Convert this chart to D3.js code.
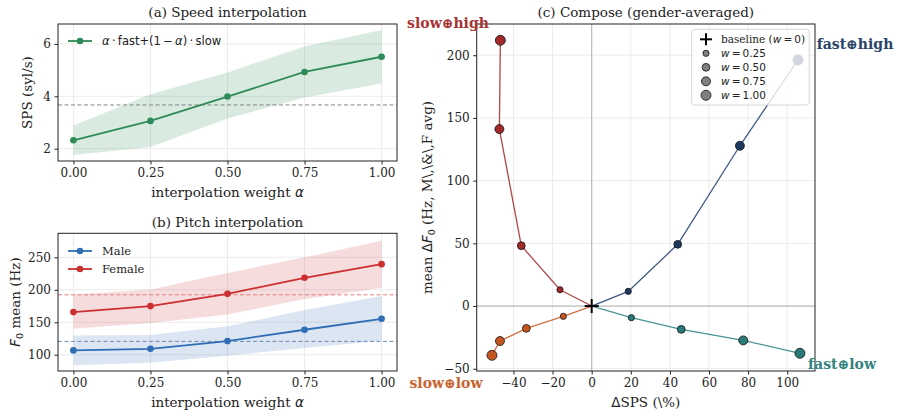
<!DOCTYPE html>
<html><head><meta charset="utf-8">
<script src="https://cdn.jsdelivr.net/npm/d3@7"></script>
<style>
body{margin:0;background:#fff;}
text{font-family:"DejaVu Serif",serif;fill:#222;}
.m{font-family:"DejaVu Sans",sans-serif;}
</style></head>
<body><svg id="c" width="902" height="416"></svg>
<script>
// ---------- data ----------
const alphas = [0, 0.25, 0.5, 0.75, 1.0];
const alphaTicks = ["0.00", "0.25", "0.50", "0.75", "1.00"];
const spsMean = [2.32, 3.06, 3.99, 4.93, 5.51];
const spsLo = [1.76, 2.06, 3.15, 3.95, 4.49];
const spsHi = [2.89, 4.08, 4.91, 5.90, 6.53];
const spsBaseline = 3.67;
const spsTicks = [2, 4, 6];

const maleF0 = [106.7, 109.2, 121.0, 138.5, 155.4];
const maleLo = [83.7, 87.7, 98.5, 110.3, 121.5];
const maleHi = [129.8, 130.3, 144.0, 168.8, 190.3];
const femaleF0 = [165.7, 174.9, 193.8, 218.5, 239.5];
const femaleLo = [140.0, 149.0, 162.0, 186.0, 202.6];
const femaleHi = [192.9, 200.6, 226.0, 250.0, 275.4];
const maleBaseline = 120.6;
const femaleBaseline = 192.3;
const f0Ticks = [100, 150, 200, 250];

const composeW = [0.25, 0.50, 0.75, 1.00];
const slowHighX = [-16.2, -36.0, -47.2, -46.7];
const slowHighY = [13.0, 48.1, 141.1, 211.9];
const fastHighX = [18.7, 44.0, 75.8, 105.5];
const fastHighY = [11.7, 49.2, 127.8, 196.2];
const slowLowX = [-14.5, -33.4, -46.9, -51.0];
const slowLowY = [-8.2, -17.8, -27.9, -39.3];
const fastLowX = [20.3, 45.8, 77.5, 106.5];
const fastLowY = [-9.3, -18.6, -27.4, -37.7];
const dspsTicks = [-40, -20, 0, 20, 40, 60, 80, 100];
const df0Ticks = [-50, 0, 50, 100, 150, 200];

// ---------- helpers ----------
const svg = d3.select("#c");
const GRID = "#e6e6e6";
const TICK_FS = "12px", LABEL_FS = "13.5px";

function frame(g, x0, y0, x1, y1) {
  g.append("rect").attr("x", x0).attr("y", y0).attr("width", x1 - x0).attr("height", y1 - y0)
    .attr("fill", "none").attr("stroke", "#222").attr("stroke-width", 1);
}
function axes(g, x, y, xt, xfmt, yt, yfmt, gridX, gridY) {
  const [x0, x1] = x.range(), [y1, y0] = y.range();
  if (gridX) xt.forEach(t => g.append("line").attr("x1", x(t)).attr("x2", x(t)).attr("y1", y0).attr("y2", y1).attr("stroke", GRID).attr("stroke-width", 0.8));
  if (gridY) yt.forEach(t => g.append("line").attr("y1", y(t)).attr("y2", y(t)).attr("x1", x0).attr("x2", x1).attr("stroke", GRID).attr("stroke-width", 0.8));
  const xa = g.append("g").attr("transform", `translate(0,${y1})`)
    .call(d3.axisBottom(x).tickValues(xt).tickFormat(xfmt).tickSize(3.5).tickPadding(3.5));
  const ya = g.append("g").attr("transform", `translate(${x0},0)`)
    .call(d3.axisLeft(y).tickValues(yt).tickFormat(yfmt).tickSize(3.5).tickPadding(3.5));
  [xa, ya].forEach(a => {
    a.select(".domain").remove();
    a.selectAll("line").attr("stroke", "#222");
    a.selectAll("text").style("font-family", "DejaVu Serif").style("font-size", TICK_FS).attr("fill", "#222");
  });
}
const minus = v => (v < 0 ? "\u2212" + Math.abs(v) : "" + v);

// ---------- panel (a) ----------
{
  const g = svg.append("g");
  const x = d3.scaleLinear().domain([-0.05, 1.05]).range([58, 397]);
  const y = d3.scaleLinear().domain([1.53, 6.76]).range([161, 24]);
  axes(g, x, y, alphas, (d, i) => alphaTicks[i], spsTicks, d => d, true, true);
  const area = d3.area().x((d, i) => x(alphas[i])).y0((d, i) => y(spsLo[i])).y1((d, i) => y(spsHi[i]));
  g.append("path").attr("d", area(alphas)).attr("fill", "#2e8b57").attr("fill-opacity", 0.18);
  g.append("line").attr("x1", 58).attr("x2", 397).attr("y1", y(spsBaseline)).attr("y2", y(spsBaseline))
    .attr("stroke", "#777").attr("stroke-width", 0.9).attr("stroke-dasharray", "4,2.5");
  const line = d3.line().x((d, i) => x(alphas[i])).y(d => y(d));
  g.append("path").attr("d", line(spsMean)).attr("fill", "none").attr("stroke", "#2e8b57").attr("stroke-width", 1.8);
  g.selectAll("circle.p").data(spsMean).join("circle").attr("cx", (d, i) => x(alphas[i])).attr("cy", d => y(d)).attr("r", 3.3).attr("fill", "#2e8b57");
  frame(g, 58, 24, 397, 161);
  g.append("text").attr("x", 227.5).attr("y", 17).attr("text-anchor", "middle").style("font-size", LABEL_FS).text("(a) Speed interpolation");
  g.append("text").attr("x", 227.5).attr("y", 197).attr("text-anchor", "middle").style("font-size", LABEL_FS)
    .text("interpolation weight ").append("tspan").attr("class", "m").style("font-style", "italic").text("α");
  g.append("text").attr("transform", "translate(32,92.5) rotate(-90)").attr("text-anchor", "middle").style("font-size", LABEL_FS).text("SPS (syl/s)");
  // legend
  g.append("line").attr("x1", 68).attr("x2", 92).attr("y1", 41).attr("y2", 41).attr("stroke", "#2e8b57").attr("stroke-width", 1.8);
  g.append("circle").attr("cx", 80).attr("cy", 41).attr("r", 3.3).attr("fill", "#2e8b57");
  const lt = g.append("text").attr("class", "m").attr("x", 102).attr("y", 45).style("font-size", "11.5px");
  lt.append("tspan").style("font-style", "italic").text("α");
  lt.append("tspan").text("\u2009·\u2009fast+(1\u2009\u2212\u2009");
  lt.append("tspan").style("font-style", "italic").text("α");
  lt.append("tspan").text(")\u2009·\u2009slow");
}

// ---------- panel (b) ----------
{
  const g = svg.append("g");
  const x = d3.scaleLinear().domain([-0.05, 1.05]).range([58, 397]);
  const y = d3.scaleLinear().domain([75, 287]).range([371, 233.3]);
  axes(g, x, y, alphas, (d, i) => alphaTicks[i], f0Ticks, d => d, true, true);
  const series = [
    { mean: maleF0, lo: maleLo, hi: maleHi, base: maleBaseline, color: "#2f6db5", band: "#2f6db5", dash: "#5a7fae", name: "Male" },
    { mean: femaleF0, lo: femaleLo, hi: femaleHi, base: femaleBaseline, color: "#cc2f2f", band: "#cc2f2f", dash: "#e07070", name: "Female" }
  ];
  series.forEach(s => {
    const area = d3.area().x((d, i) => x(alphas[i])).y0((d, i) => y(s.lo[i])).y1((d, i) => y(s.hi[i]));
    g.append("path").attr("d", area(alphas)).attr("fill", s.band).attr("fill-opacity", 0.17);
  });
  series.forEach(s => {
    g.append("line").attr("x1", 58).attr("x2", 397).attr("y1", y(s.base)).attr("y2", y(s.base))
      .attr("stroke", s.dash).attr("stroke-width", 0.9).attr("stroke-dasharray", "4,2.5");
  });
  const line = d3.line().x((d, i) => x(alphas[i])).y(d => y(d));
  series.forEach(s => {
    g.append("path").attr("d", line(s.mean)).attr("fill", "none").attr("stroke", s.color).attr("stroke-width", 1.8);
    g.selectAll(null).data(s.mean).join("circle").attr("cx", (d, i) => x(alphas[i])).attr("cy", d => y(d)).attr("r", 3.3).attr("fill", s.color);
  });
  frame(g, 58, 233.3, 397, 371);
  g.append("text").attr("x", 227.5).attr("y", 227).attr("text-anchor", "middle").style("font-size", LABEL_FS).text("(b) Pitch interpolation");
  g.append("text").attr("x", 227.5).attr("y", 407).attr("text-anchor", "middle").style("font-size", LABEL_FS)
    .text("interpolation weight ").append("tspan").attr("class", "m").style("font-style", "italic").text("α");
  const yl = g.append("text").attr("transform", "translate(20,302) rotate(-90)").attr("text-anchor", "middle").style("font-size", LABEL_FS);
  yl.append("tspan").attr("class", "m").style("font-style", "italic").text("F");
  yl.append("tspan").attr("class", "m").attr("dy", 3).style("font-size", "9.5px").text("0");
  yl.append("tspan").attr("dy", -3).text(" mean (Hz)");
  series.forEach((s, k) => {
    const ly = 251 + k * 18;
    g.append("line").attr("x1", 68).attr("x2", 92).attr("y1", ly).attr("y2", ly).attr("stroke", s.color).attr("stroke-width", 1.8);
    g.append("circle").attr("cx", 80).attr("cy", ly).attr("r", 3.3).attr("fill", s.color);
    g.append("text").attr("x", 102).attr("y", ly + 4).style("font-size", "11.5px").text(s.name);
  });
}

// ---------- panel (c) ----------
{
  const g = svg.append("g");
  const x = d3.scaleLinear().domain([-58.8, 114.2]).range([476.7, 815]);
  const y = d3.scaleLinear().domain([-51.8, 224.9]).range([371, 24]);
  axes(g, x, y, dspsTicks, minus, df0Ticks, minus, true, true);
  g.append("line").attr("x1", x(0)).attr("x2", x(0)).attr("y1", 24).attr("y2", 371).attr("stroke", "#999").attr("stroke-opacity", 0.6).attr("stroke-width", 1.2);
  g.append("line").attr("y1", y(0)).attr("y2", y(0)).attr("x1", 476.7).attr("x2", 815).attr("stroke", "#999").attr("stroke-opacity", 0.6).attr("stroke-width", 1.2);
  const rScale = d3.scaleSqrt().domain([0.25, 1.0]).range([3.1, 5.0]);
  const series = [
    { xs: slowHighX, ys: slowHighY, color: "#a12a2a", line: "#b24848" },
    { xs: fastHighX, ys: fastHighY, color: "#1d3a5f", line: "#3e5a80" },
    { xs: slowLowX, ys: slowLowY, color: "#c4561f", line: "#d27040" },
    { xs: fastLowX, ys: fastLowY, color: "#2a7a77", line: "#4a9593" }
  ];
  series.forEach(s => {
    const pts = [[0, 0]].concat(s.xs.map((v, i) => [v, s.ys[i]]));
    g.append("path").attr("d", d3.line().x(d => x(d[0])).y(d => y(d[1]))(pts)).attr("fill", "none").attr("stroke", s.line).attr("stroke-width", 1.3);
  });
  series.forEach(s => {
    g.selectAll(null).data(composeW).join("circle").attr("cx", (d, i) => x(s.xs[i])).attr("cy", (d, i) => y(s.ys[i]))
      .attr("r", d => rScale(d)).attr("fill", s.color).attr("stroke", "#111").attr("stroke-width", 0.8);
  });
  // baseline cross
  const cx = x(0), cy = y(0);
  g.append("line").attr("x1", cx - 7).attr("x2", cx + 7).attr("y1", cy).attr("y2", cy).attr("stroke", "#000").attr("stroke-width", 2);
  g.append("line").attr("x1", cx).attr("x2", cx).attr("y1", cy - 7).attr("y2", cy + 7).attr("stroke", "#000").attr("stroke-width", 2);
  frame(g, 476.7, 24, 815, 371);
  // legend
  g.append("rect").attr("x", 691.7).attr("y", 29.3).attr("width", 117.6).attr("height", 75.7).attr("rx", 3)
    .attr("fill", "#fff").attr("fill-opacity", 0.8).attr("stroke", "#ccc").attr("stroke-width", 0.8);
  const ly0 = 39.3, ldy = 14;
  g.append("line").attr("x1", 700).attr("x2", 712).attr("y1", ly0).attr("y2", ly0).attr("stroke", "#000").attr("stroke-width", 2);
  g.append("line").attr("x1", 706).attr("x2", 706).attr("y1", ly0 - 6).attr("y2", ly0 + 6).attr("stroke", "#000").attr("stroke-width", 2);
  const bt = g.append("text").attr("x", 721).attr("y", ly0 + 3.5).style("font-size", "10.5px").text("baseline (");
  bt.append("tspan").attr("class", "m").style("font-style", "italic").text("w");
  bt.append("tspan").attr("class", "m").text("\u2009=\u20090");
  bt.append("tspan").text(")");
  composeW.forEach((w, i) => {
    const yy = ly0 + ldy * (i + 1);
    g.append("circle").attr("cx", 706).attr("cy", yy).attr("r", rScale(w)).attr("fill", "#808080").attr("stroke", "#111").attr("stroke-width", 0.8);
    const t = g.append("text").attr("class", "m").attr("x", 721).attr("y", yy + 4).style("font-size", "10.5px");
    t.append("tspan").style("font-style", "italic").text("w");
    t.append("tspan").text("\u2009=\u2009" + w.toFixed(2));
  });
  g.append("text").attr("x", 645.8).attr("y", 17).attr("text-anchor", "middle").style("font-size", LABEL_FS).text("(c) Compose (gender-averaged)");
  const xl = g.append("text").attr("x", 645.8).attr("y", 407).attr("text-anchor", "middle").style("font-size", LABEL_FS);
  xl.append("tspan").attr("class", "m").text("Δ");
  xl.append("tspan").text("SPS (\\%)");
  const yl = g.append("text").attr("transform", "translate(432,197.5) rotate(-90)").attr("text-anchor", "middle").style("font-size", LABEL_FS);
  yl.append("tspan").text("mean ");
  yl.append("tspan").attr("class", "m").text("Δ");
  yl.append("tspan").attr("class", "m").style("font-style", "italic").text("F");
  yl.append("tspan").attr("class", "m").attr("dy", 3).style("font-size", "9.5px").text("0");
  yl.append("tspan").attr("dy", -3).text(" (Hz, M\\,\\&\\,F avg)");
  // corner labels
  const corner = [
    { t: "slow\u2295high", x: 448, y: 28, c: "#a83535" },
    { t: "fast\u2295high", x: 855, y: 48.5, c: "#2a4468" },
    { t: "slow\u2295low", x: 446, y: 388, c: "#c8642f" },
    { t: "fast\u2295low", x: 842, y: 369, c: "#338380" }
  ];
  corner.forEach(c => g.append("text").attr("x", c.x).attr("y", c.y).attr("text-anchor", "middle")
    .style("font-size", "14px").style("font-weight", "bold").style("fill", c.c).text(c.t));
}
</script></body></html>
